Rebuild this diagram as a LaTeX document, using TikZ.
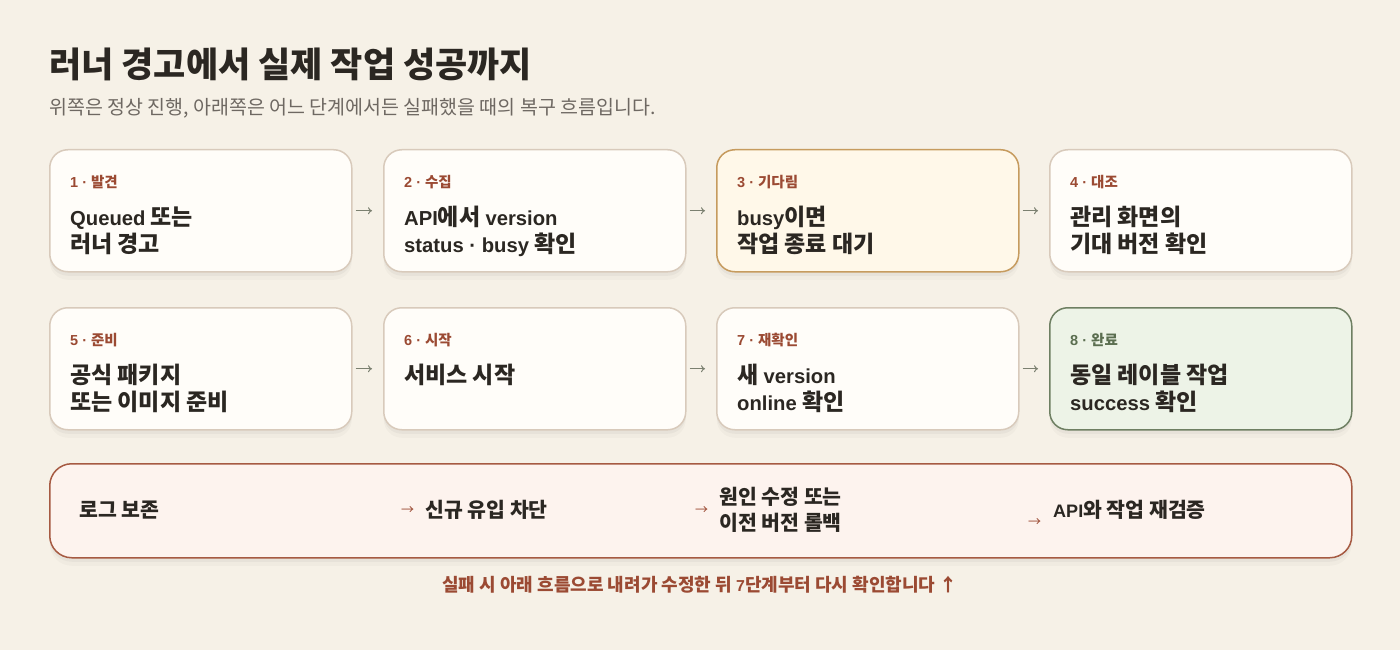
\documentclass[tikz,border=0pt]{standalone}
\usepackage{fontspec}
\setmainfont{Noto Sans CJK KR}
\newfontfamily\latinfont[Scale=0.88]{Liberation Sans}
\newfontfamily\tagfont{Liberation Sans}
\newcommand\eng[1]{{\latinfont #1}}
\usetikzlibrary{shadows,arrows.meta}
\definecolor{paper}{HTML}{F6F1E7}
\definecolor{ink}{HTML}{2B2722}
\definecolor{muted}{HTML}{6E6862}
\definecolor{rust}{HTML}{9B4A33}
\definecolor{cardfill}{HTML}{FFFDF9}
\definecolor{cardline}{HTML}{D8CABB}
\definecolor{waitfill}{HTML}{FFF8E9}
\definecolor{waitline}{HTML}{C69B5E}
\definecolor{donefill}{HTML}{EDF3E7}
\definecolor{doneline}{HTML}{6E7F62}
\definecolor{donetag}{HTML}{5B6E50}
\definecolor{fixfill}{HTML}{FDF3EE}
\definecolor{fixline}{HTML}{A65A42}
\definecolor{arrowgray}{HTML}{7B8070}
\begin{document}
\begin{tikzpicture}[x=1pt,y=-1pt,
every node/.style={inner sep=0pt,text=ink},
soft/.style={%
drop shadow={shadow xshift=0pt,shadow yshift=-8pt,fill=black,opacity=0.025},
drop shadow={shadow xshift=0pt,shadow yshift=-4pt,fill=black,opacity=0.035}
},
card/.style={%
draw=cardline,
fill=cardfill,
line width=1.5pt,
rounded corners=18pt,
anchor=north west,
minimum width=302pt,
minimum height=122pt,
soft
},
waitcard/.style={card,draw=waitline,fill=waitfill},
donecard/.style={card,draw=doneline,fill=donefill},
tag/.style={%
anchor=base west,
text=rust,
font=\fontsize{14.5}{18}\selectfont\bfseries
},
task/.style={%
anchor=base west,
align=left,
font=\fontsize{23}{27}\selectfont\bfseries
},
flow/.style={%
draw=arrowgray,
line width=1pt,
-{To[length=4pt,width=7pt]},
shorten <=3pt,
shorten >=11pt
},
fixbox/.style={%
draw=fixline,
fill=fixfill,
line width=1.5pt,
rounded corners=22pt,
anchor=north west,
minimum width=1302pt,
minimum height=94pt,
soft
},
fixtext/.style={%
anchor=base west,
align=left,
font=\fontsize{20.5}{26}\selectfont\bfseries
},
fixarrow/.style={%
anchor=base west,
text=rust,
font=\fontsize{13}{15}\selectfont
}]
\fill[paper] (0,0) rectangle (1400,650);
\useasboundingbox (0,0) rectangle (1400,650);
% heading
\node[anchor=base west,font=\fontsize{35}{40}\selectfont\bfseries] (title) at (49,78) {러너 경고에서 실제 작업 성공까지};
\node[anchor=base west,text=muted,font=\fontsize{19.5}{23}\selectfont] (sub) at (49,115) {위쪽은 정상 진행, 아래쪽은 어느 단계에서든 실패했을 때의 복구 흐름입니다.};
% first row
\node[card] (c1) at (49,149) {};
\node[tag] at (70,187.5) {{\tagfont 1 · }발견};
\node[task] at (70,252) {\eng{Queued} 또는\\러너 경고};
\node[card] (c2) at (383,149) {};
\node[tag] at (404,187.5) {{\tagfont 2 · }수집};
\node[task] at (404,252) {\eng{API}에서 \eng{version}\\\eng{status · busy} 확인};
\node[waitcard] (c3) at (716,149) {};
\node[tag] at (737,187.5) {{\tagfont 3 · }기다림};
\node[task] at (737,252) {\eng{busy}이면\\작업 종료 대기};
\node[card] (c4) at (1049,149) {};
\node[tag] at (1070,187.5) {{\tagfont 4 · }대조};
\node[task] at (1070,252) {관리 화면의\\기대 버전 확인};
% second row
\node[card] (c5) at (49,307) {};
\node[tag] at (70,345.5) {{\tagfont 5 · }준비};
\node[task] at (70,410) {공식 패키지\\또는 이미지 준비};
\node[card] (c6) at (383,307) {};
\node[tag] at (404,345.5) {{\tagfont 6 · }시작};
\node[task] at (404,383) {서비스 시작};
\node[card] (c7) at (716,307) {};
\node[tag] at (737,345.5) {{\tagfont 7 · }재확인};
\node[task] at (737,410) {새 \eng{version}\\\eng{online} 확인};
\node[donecard] (c8) at (1049,307) {};
\node[tag,text=donetag] at (1070,345.5) {{\tagfont 8 · }완료};
\node[task] at (1070,410) {동일 레이블 작업\\\eng{success} 확인};
\foreach \a/\b in {c1/c2,c2/c3,c3/c4,c5/c6,c6/c7,c7/c8}{%
\draw[flow] (\a.east) -- (\b.west);
}
% recovery
\node[fixbox] (fix) at (49,463) {};
\node[fixtext] (f1) at (79,517.5) {로그 보존};
\node[fixarrow] at (401,514) {→};
\node[fixtext] (f2) at (425,517.5) {신규 유입 차단};
\node[fixarrow] at (695,514) {→};
\node[fixtext] (f3) at (719,530.5) {원인 수정 또는\\이전 버전 롤백};
\node[fixarrow] at (1028,526) {→};
\node[fixtext] (f4) at (1053,517.5) {\eng{API}와 작업 재검증};
\node[anchor=base,text=rust,font=\fontsize{18}{22}\selectfont\bfseries] (note) at (700,591.5) {실패 시 아래 흐름으로 내려가 수정한 뒤 \eng{7}단계부터 다시 확인합니다 ↑};
\end{tikzpicture}
\end{document}
